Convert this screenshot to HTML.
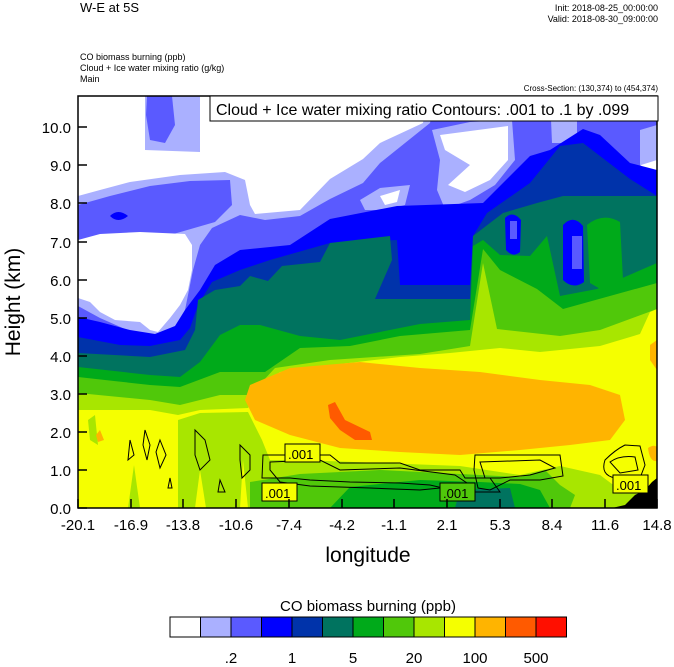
<!DOCTYPE html>
<html><head><meta charset="utf-8"><style>
body{margin:0;background:#fff;}
svg{display:block;font-family:"Liberation Sans",sans-serif;}
</style></head><body>
<svg width="674" height="667" viewBox="0 0 674 667" xmlns="http://www.w3.org/2000/svg">
<text x="80" y="12" font-size="13">W-E at 5S</text>
<text x="658" y="11" font-size="9" text-anchor="end">Init: 2018-08-25_00:00:00</text>
<text x="658" y="22" font-size="9" text-anchor="end">Valid: 2018-08-30_09:00:00</text>
<text x="80" y="60" font-size="9">CO biomass burning   (ppb)</text>
<text x="80" y="71" font-size="9">Cloud + Ice water mixing ratio   (g/kg)</text>
<text x="80" y="82" font-size="9">Main</text>
<text x="658" y="91" font-size="8" text-anchor="end">Cross-Section: (130,374) to (454,374)</text>
<defs><clipPath id="c"><rect x="78" y="96" width="579" height="412"/></clipPath></defs>
<g clip-path="url(#c)">
<rect x="78" y="96" width="579" height="412" fill="#aab0ff"/>
<!-- white A -->
<path d="M78 96 L145 96 L145 150 L200 152 L200 96 L428 96 L423 123 L380 143 L363 159 L330 179 L300 210 L255 214 L250 205 L245 180 L225 172 L180 175 L130 182 L100 190 L78 196Z" fill="#fff"/>
<path d="M145 96 L198 96 L197 130 L185 145 L160 150 L145 140Z" fill="#aab0ff"/>
<path d="M147 96 L172 96 L175 125 L165 143 L150 140 L146 115Z" fill="#5a5aff"/>
<path d="M78 205 L110 196 L150 186 L190 181 L230 180 L232 205 L215 222 L170 235 L130 243 L100 249 L78 252Z" fill="#5a5aff"/>
<path d="M110 216 Q118 208 128 216 Q118 224 110 216Z" fill="#0000ff"/>
<!-- white B -->
<path d="M78 240 L100 234 L140 232 L185 234 L192 245 L192 270 L188 290 L180 305 L170 318 L158 332 L150 330 L140 322 L115 320 L100 312 L90 302 L78 298Z" fill="#fff"/>
<!-- medium blue main -->
<path d="M78 306 L100 318 L150 340 L172 335 L185 310 L193 270 L200 245 L212 228 L240 215 L265 220 L300 216 L330 199 L363 183 L380 163 L430 123 L437 96 L657 96 L657 508 L78 508Z" fill="#5a5aff"/>
<path d="M432 130 L470 122 L512 120 L515 160 L495 185 L470 200 L445 209 L437 190 L440 160Z" fill="#aab0ff"/>
<path d="M440 135 L508 126 L508 160 L490 180 L465 192 L448 185 L470 165 L445 150Z" fill="#fff"/>
<path d="M360 200 L380 188 L410 185 L405 205 L385 210 L365 210Z" fill="#aab0ff"/>
<path d="M380 196 L400 190 L397 202 L385 205Z" fill="#fff"/>
<path d="M550 96 L577 96 L577 143 L552 143Z" fill="#aab0ff"/>
<path d="M640 130 L657 125 L657 200 L645 196 L640 170Z" fill="#aab0ff"/>
<path d="M641 165 L657 160 L657 196 L648 195Z" fill="#fff"/>
<!-- blue -->
<path d="M78 317 L100 322 L130 330 L155 334 L175 326 L185 310 L200 290 L215 265 L240 250 L290 245 L330 219 L397 206 L483 203 L530 156 L550 150 L583 129 L600 135 L630 163 L657 170 L657 508 L78 508Z" fill="#0000ff"/>
<!-- dark blue -->
<path d="M78 337 L120 345 L150 346 L180 340 L190 328 L198 305 L212 282 L240 270 L270 260 L330 243 L397 240 L400 285 L470 285 L473 236 L487 213 L530 183 L560 146 L583 143 L630 179 L657 196 L657 508 L78 508Z" fill="#0033aa"/>
<!-- teal -->
<path d="M78 353 L150 357 L185 350 L195 330 L198 300 L215 290 L240 286 L250 276 L268 281 L282 266 L320 262 L330 243 L390 236 L392 260 L375 299 L470 299 L473 236 L503 213 L537 203 L563 196 L657 196 L657 508 L78 508Z" fill="#00735f"/>
<path d="M505 218 Q513 210 521 220 L520 252 Q513 258 506 250Z" fill="#0000ff"/>
<path d="M510 221 L517 221 L517 239 L510 239Z" fill="#5a5aff"/>
<path d="M563 225 Q573 214 583 226 L584 282 Q573 290 563 280Z" fill="#0000ff"/>
<path d="M572 236 L582 236 L582 269 L572 269Z" fill="#5a5aff"/>
<!-- green -->
<path d="M78 367 L150 375 L180 377 L200 362 L220 335 L240 325 L260 325 L300 336 L340 340 L380 332 L420 324 L470 320 L473 246 L483 240 L500 255 L530 256 L547 236 L560 296 L597 289 L657 263 L657 508 L78 508Z" fill="#00aa1a"/>
<path d="M587 225 Q603 212 620 222 L623 280 L602 290 L590 283Z" fill="#00aa1a"/>
<!-- mid green -->
<path d="M78 377 L150 385 L180 387 L220 372 L265 372 L300 348 L350 346 L400 336 L470 330 L483 249 L500 270 L537 289 L563 309 L657 283 L657 508 L78 508Z" fill="#50c80a"/>
<!-- lime -->
<path d="M78 393 L150 400 L180 405 L220 395 L250 395 L275 368 L330 360 L420 354 L470 346 L483 263 L497 329 L560 336 L600 330 L657 309 L657 508 L78 508Z" fill="#a8e600"/>
<!-- yellow -->
<path d="M78 410 L150 410 L178 415 L200 410 L248 408 L262 385 L280 372 L340 364 L400 357 L450 353 L500 348 L540 352 L600 346 L640 334 L650 312 L657 309 L657 508 L78 508Z" fill="#f5ff00"/>
<!-- bottom lime -->
<path d="M178 508 L178 420 L200 413 L248 412 L262 440 L270 460 L300 460 L380 463 L460 466 L520 475 L560 466 L600 475 L620 490 L657 495 L657 508Z" fill="#a8e600"/>
<path d="M128 508 L134 465 L140 508Z M88 420 L95 415 L98 445 L90 440Z" fill="#a8e600"/>
<path d="M195 508 L200 470 L206 508Z M240 508 L243 460 L248 508Z" fill="#f5ff00"/>
<path d="M250 482 L300 474 L380 470 L460 474 L520 477 L545 470 L560 485 L575 495 L570 508 L250 508Z" fill="#50c80a"/>
<path d="M330 508 L350 487 L420 480 L480 482 L520 484 L540 490 L550 508Z" fill="#00aa1a"/>
<path d="M455 508 L460 490 L510 488 L515 508Z" fill="#00735f"/>
<!-- orange -->
<path d="M250 385 L290 368 L360 362 L420 368 L480 372 L540 380 L590 385 L620 395 L625 420 L610 440 L570 445 L520 450 L460 455 L400 452 L340 448 L290 435 L255 420 L245 400Z" fill="#ffb400"/>
<path d="M650 345 L657 340 L657 370 L650 360Z" fill="#ffb400"/>
<path d="M96 435 L100 430 L104 440 L98 442Z" fill="#ffb400"/>
<path d="M648 448 Q660 440 660 460 Q650 465 648 448Z" fill="#ffb400"/>
<path d="M328 405 L335 402 L345 420 L370 432 L372 440 L355 440 L340 430 L330 418Z" fill="#ff5a00"/>
<path d="M612 508 L625 505 L635 495 L645 490 L652 482 L657 478 L657 508Z" fill="#000"/>
<!-- contours -->
<g fill="none" stroke="#000" stroke-width="1">
<path d="M263 455 L330 455 L340 463 L400 463 L420 470 L460 470 L465 478 L490 478 L500 492 L460 492 L430 485 L400 483 L350 482 L310 480 L290 478 L262 478Z"/>
<path d="M270 462 L320 460 L340 470 L400 468 L455 475 L470 485 L420 490 L370 488 L310 486 L280 482 L270 470Z"/>
<path d="M475 455 L560 455 L563 476 L540 480 L510 480 L490 490 L478 488 L474 470Z"/>
<path d="M480 462 L540 460 L555 468 L530 475 L500 478 L485 478Z"/>
<path d="M605 460 Q615 450 625 445 L640 446 L645 465 L640 478 L615 478 Q600 475 605 460Z"/>
<path d="M610 462 Q620 455 635 457 L638 470 L620 473Z"/>
<path d="M145 430 L150 445 L147 460 L143 445Z"/>
<path d="M160 440 L166 455 L160 468 L156 452Z"/>
<path d="M195 430 L205 440 L210 460 L200 470 L195 455Z"/>
<path d="M240 445 L250 455 L250 470 L242 478 L240 460Z"/>
<path d="M170 478 L172 488 L168 488Z"/>
<path d="M220 480 L225 492 L218 492Z"/>
<path d="M130 440 L134 455 L128 460Z"/>
</g>
<g font-size="13">
<rect x="285" y="444" width="35" height="18" fill="#f5ff00" stroke="#000"/><text x="288" y="459">.001</text>
<rect x="262" y="483" width="35" height="18" fill="#f5ff00" stroke="#000"/><text x="265" y="498">.001</text>
<rect x="440" y="483" width="35" height="18" fill="#50c80a" stroke="#000"/><text x="443" y="498">.001</text>
<rect x="613" y="475" width="35" height="18" fill="#f5ff00" stroke="#000"/><text x="616" y="490">.001</text>
</g>
</g>
<rect x="78" y="96" width="579" height="412" fill="none" stroke="#000" stroke-width="1.5"/>
<rect x="210" y="96" width="448" height="25" fill="#fff" stroke="#000" stroke-width="1"/>
<text x="216" y="115" font-size="16">Cloud + Ice water mixing ratio Contours: .001 to .1 by .099</text>
<g stroke="#000" stroke-width="1.5">
<path d="M78 508h9M78 470h9M78 432h9M78 394h9M78 356h9M78 318h9M78 280h9M78 242h9M78 203h9M78 165h9M78 127h9"/>
<path d="M78 508v-9M131 508v-9M183 508v-9M236 508v-9M289 508v-9M342 508v-9M394 508v-9M447 508v-9M500 508v-9M552 508v-9M605 508v-9M657 508v-9"/>
</g>
<g font-size="15" text-anchor="end">
<text x="71" y="514">0.0</text><text x="71" y="476">1.0</text><text x="71" y="438">2.0</text><text x="71" y="400">3.0</text><text x="71" y="362">4.0</text><text x="71" y="324">5.0</text><text x="71" y="286">6.0</text><text x="71" y="248">7.0</text><text x="71" y="209">8.0</text><text x="71" y="171">9.0</text><text x="71" y="133">10.0</text>
</g>
<g font-size="15" text-anchor="middle">
<text x="78" y="530">-20.1</text><text x="131" y="530">-16.9</text><text x="183" y="530">-13.8</text><text x="236" y="530">-10.6</text><text x="289" y="530">-7.4</text><text x="342" y="530">-4.2</text><text x="394" y="530">-1.1</text><text x="447" y="530">2.1</text><text x="500" y="530">5.3</text><text x="552" y="530">8.4</text><text x="605" y="530">11.6</text><text x="657" y="530">14.8</text>
</g>
<text x="368" y="562" font-size="21" text-anchor="middle">longitude</text>
<text transform="translate(20,302) rotate(-90)" font-size="21" text-anchor="middle">Height (km)</text>
<text x="368" y="611" font-size="15" text-anchor="middle">CO biomass burning  (ppb)</text>
<g stroke="#000" stroke-width="1">
<rect x="170" y="617" width="30.5" height="20" fill="#fff"/>
<rect x="200.5" y="617" width="30.5" height="20" fill="#aab0ff"/>
<rect x="231" y="617" width="30.5" height="20" fill="#5a5aff"/>
<rect x="261.5" y="617" width="30.5" height="20" fill="#0000ff"/>
<rect x="292" y="617" width="30.5" height="20" fill="#0033aa"/>
<rect x="322.5" y="617" width="30.5" height="20" fill="#00735f"/>
<rect x="353" y="617" width="30.5" height="20" fill="#00aa1a"/>
<rect x="383.5" y="617" width="30.5" height="20" fill="#50c80a"/>
<rect x="414" y="617" width="30.5" height="20" fill="#a8e600"/>
<rect x="444.5" y="617" width="30.5" height="20" fill="#f5ff00"/>
<rect x="475" y="617" width="30.5" height="20" fill="#ffb400"/>
<rect x="505.5" y="617" width="30.5" height="20" fill="#ff5a00"/>
<rect x="536" y="617" width="30.5" height="20" fill="#ff0f00"/>
</g>
<g font-size="15" text-anchor="middle">
<text x="231" y="663">.2</text><text x="292" y="663">1</text><text x="353" y="663">5</text><text x="414" y="663">20</text><text x="475" y="663">100</text><text x="536" y="663">500</text>
</g>
</svg>
</body></html>
